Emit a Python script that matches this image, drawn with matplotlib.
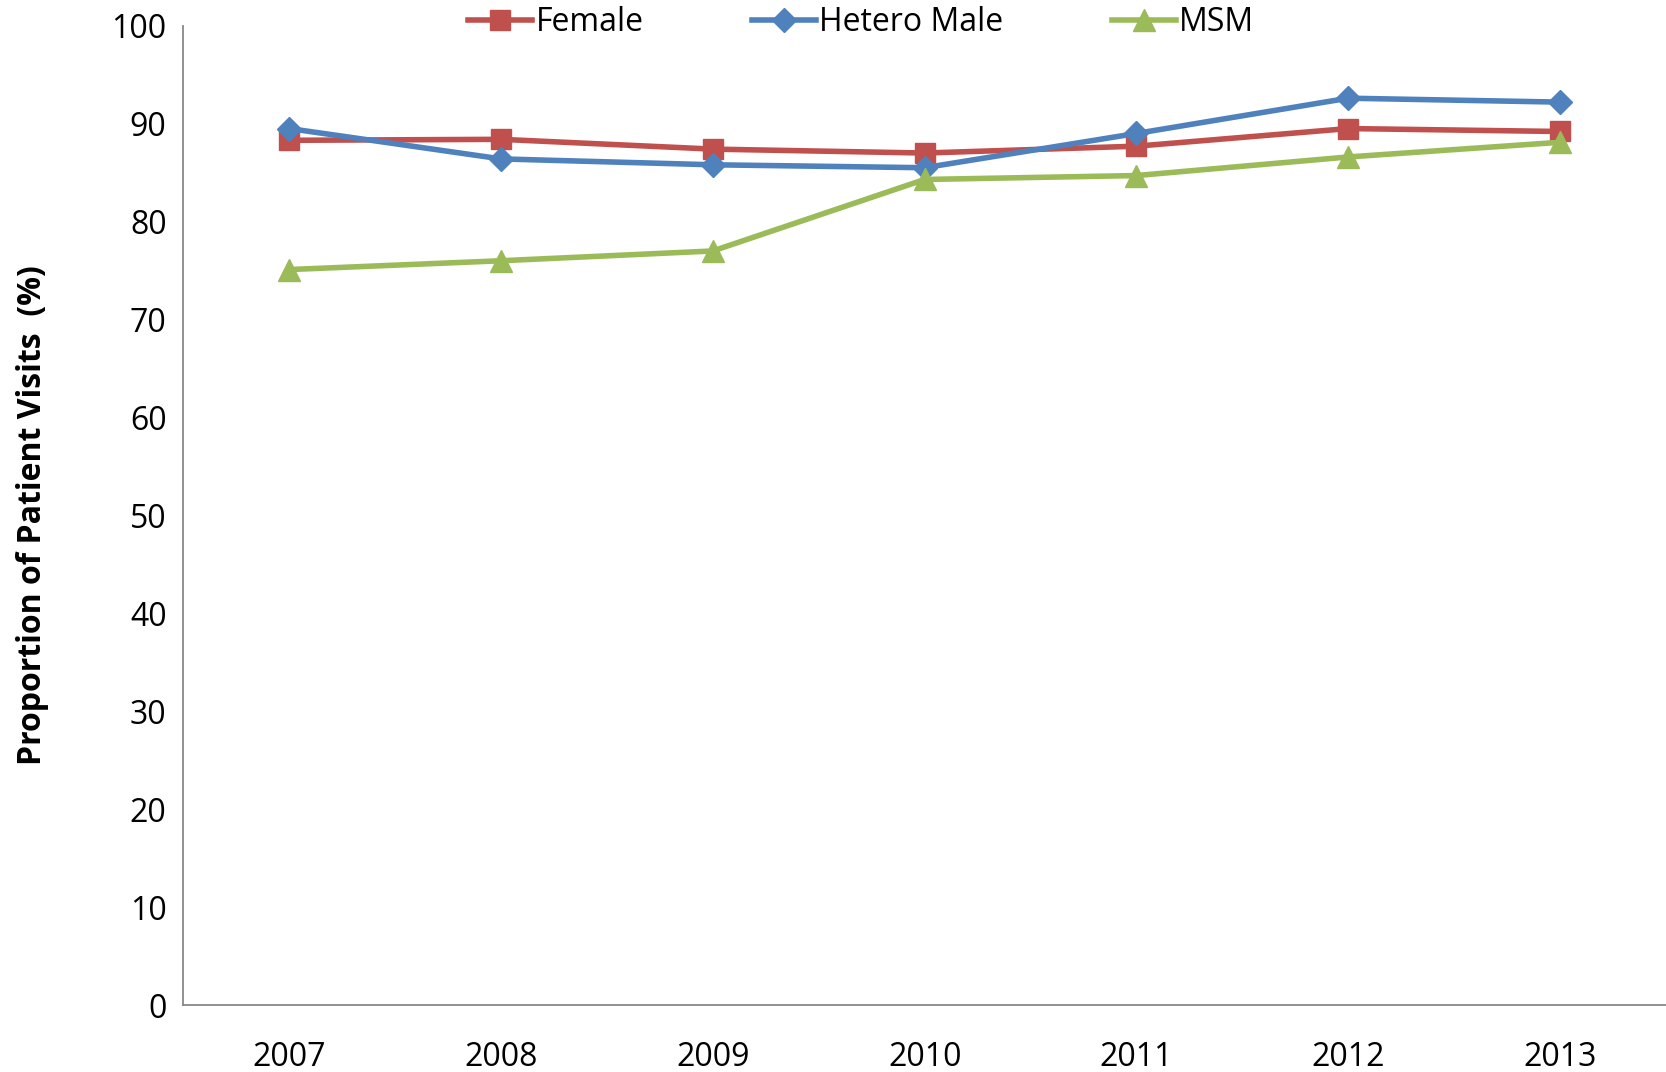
import numpy as np
import matplotlib
matplotlib.use('Agg')
import matplotlib.pyplot as plt

years = ['2007', '2008', '2009', '2010', '2011', '2012', '2013']
female = [88.3, 88.4, 87.4, 87.0, 87.7, 89.5, 89.2]
hetero_male = [89.5, 86.4, 85.8, 85.5, 89.0, 92.6, 92.2]
msm = [75.1, 76.0, 77.0, 84.3, 84.7, 86.6, 88.1]

plt.rcParams['font.family'] = ['Open Sans', 'DejaVu Sans']

fig = plt.figure(figsize=(16.66, 10.72), dpi=100)
ax = fig.add_axes([0.110, 0.0625, 0.890, 0.9135])

x = np.arange(len(years))
ax.plot(x, female, color='#C0504D', lw=4, marker='s', ms=15, label='Female')
ax.plot(x, hetero_male, color='#4F81BD', lw=4, marker='D', ms=12, label='Hetero Male')
ax.plot(x, msm, color='#9BBB59', lw=4, marker='^', ms=16, label='MSM')

ax.set_xlim(-0.5, len(years) - 0.5)
ax.set_ylim(0, 100)
ax.set_yticks(range(0, 101, 10))
ax.set_xticks(x)
ax.set_xticklabels(years)
ax.tick_params(axis='both', length=0, labelsize=23, pad=12)
ax.tick_params(axis='x', pad=26)
for s in ['top', 'right']:
    ax.spines[s].set_visible(False)
for s in ['left', 'bottom']:
    ax.spines[s].set_color('#888888')
    ax.spines[s].set_linewidth(1.3)

ax.set_ylabel('Proportion of Patient Visits  (%)', fontsize=23, fontweight='bold', labelpad=45)

fig.legend(loc='upper center', bbox_to_anchor=(0.517, 1.021), ncol=3, frameon=False,
           fontsize=23, handlelength=2.0, handletextpad=0.1, columnspacing=3.4)

fig.savefig('out.png', dpi=100)
